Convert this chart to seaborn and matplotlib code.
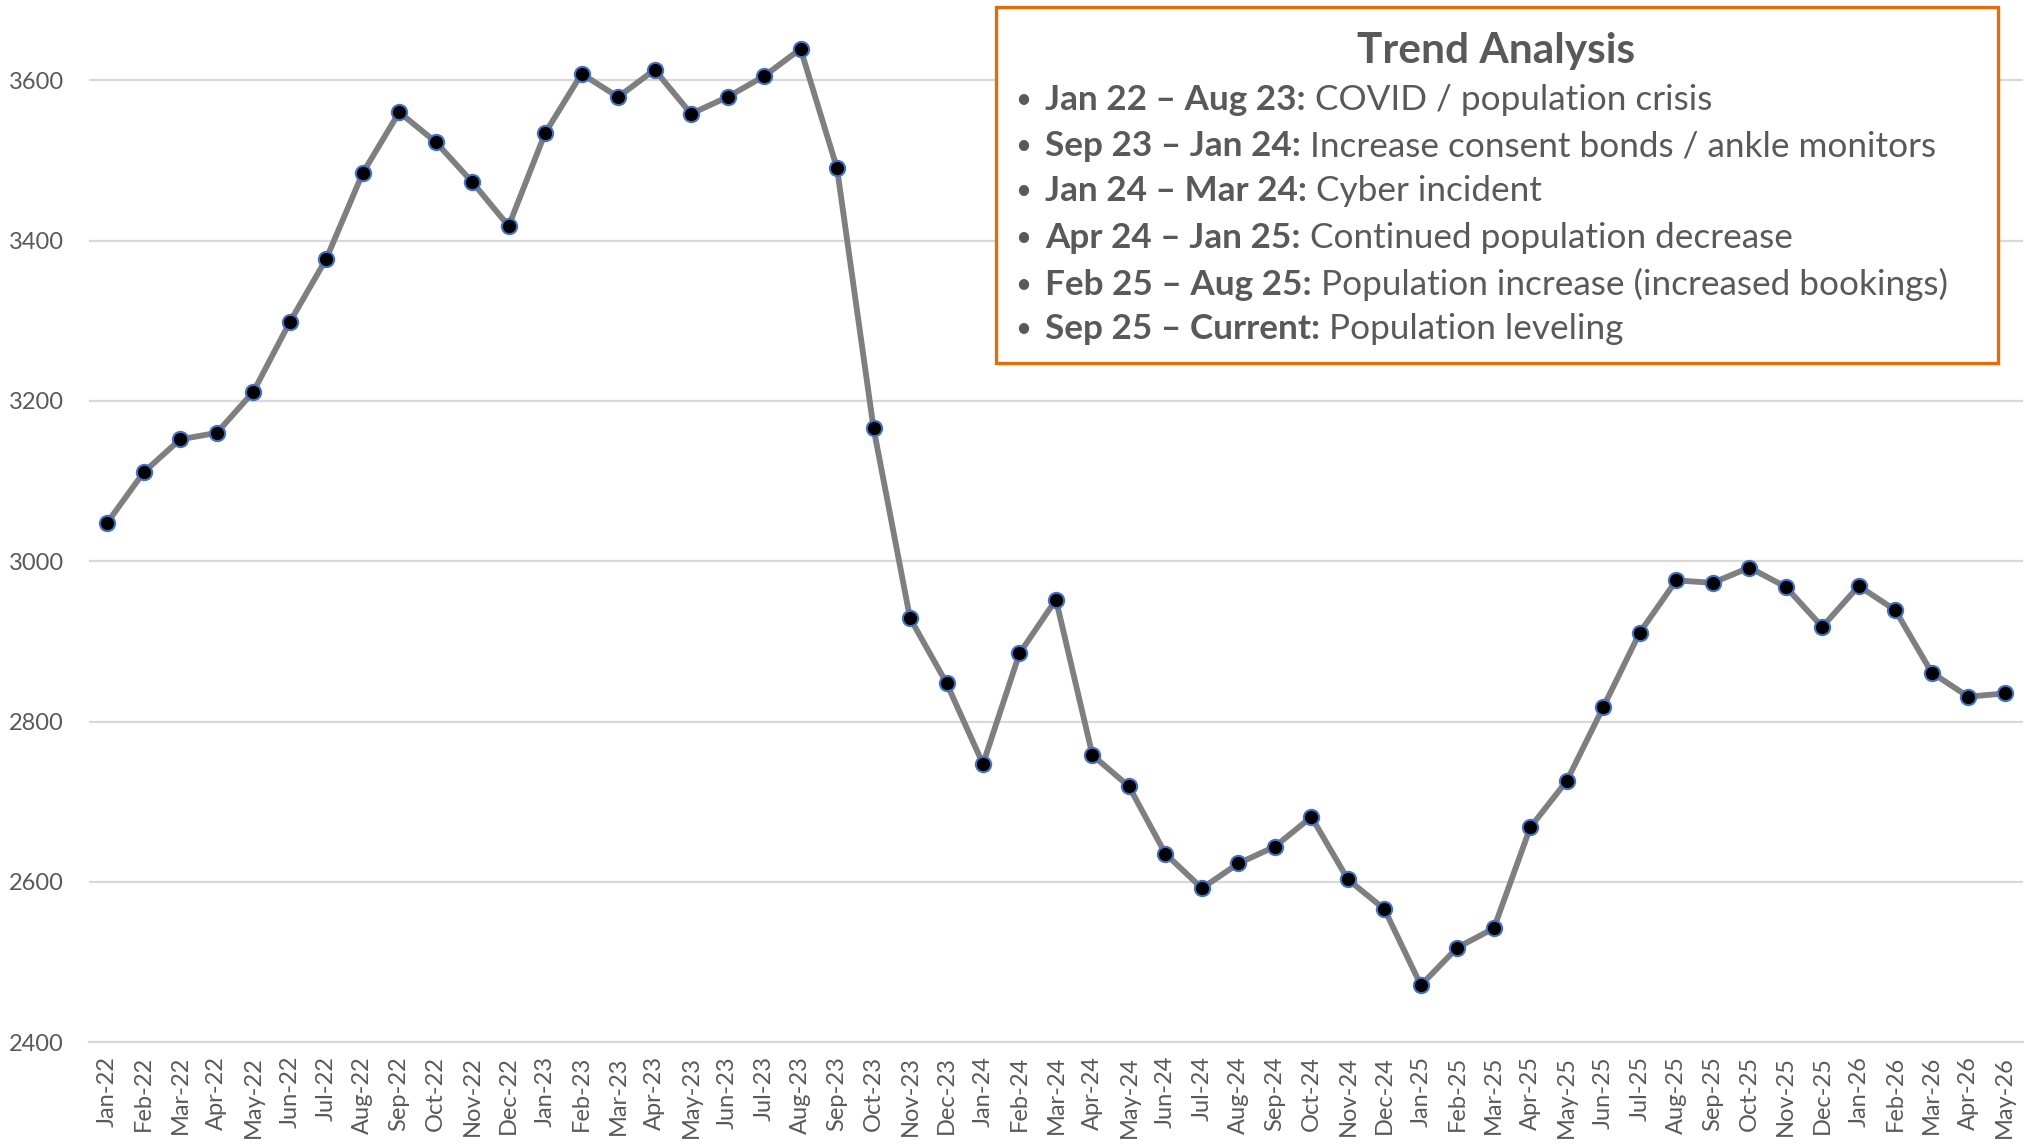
import numpy as np
import pandas as pd
import matplotlib
matplotlib.use("Agg")
import matplotlib.pyplot as plt
import seaborn as sns
from matplotlib.patches import Rectangle

# meses del eje x
meses = ["Jan-22", "Feb-22", "Mar-22", "Apr-22", "May-22", "Jun-22", "Jul-22", "Aug-22",
         "Sep-22", "Oct-22", "Nov-22", "Dec-22", "Jan-23", "Feb-23", "Mar-23", "Apr-23",
         "May-23", "Jun-23", "Jul-23", "Aug-23", "Sep-23", "Oct-23", "Nov-23", "Dec-23",
         "Jan-24", "Feb-24", "Mar-24", "Apr-24", "May-24", "Jun-24", "Jul-24", "Aug-24",
         "Sep-24", "Oct-24", "Nov-24", "Dec-24", "Jan-25", "Feb-25", "Mar-25", "Apr-25",
         "May-25", "Jun-25", "Jul-25", "Aug-25", "Sep-25", "Oct-25", "Nov-25", "Dec-25",
         "Jan-26", "Feb-26", "Mar-26", "Apr-26", "May-26"]

# poblacion mensual
poblacion = [3048, 3111, 3152, 3160, 3211, 3298, 3377, 3484,
             3560, 3523, 3473, 3418, 3534, 3608, 3579, 3613,
             3558, 3579, 3605, 3639, 3490, 3166, 2929, 2848,
             2747, 2885, 2952, 2758, 2719, 2635, 2592, 2623,
             2644, 2681, 2603, 2566, 2471, 2518, 2542, 2668,
             2726, 2818, 2911, 2976, 2973, 2992, 2968, 2918,
             2969, 2939, 2861, 2831, 2835]

y_ticks = [2400, 2600, 2800, 3000, 3200, 3400, 3600]

titulo_caja = "Trend Analysis"
periodos = ["Jan 22 \u2013 Aug 23:", "Sep 23 \u2013 Jan 24:", "Jan 24 \u2013 Mar 24:",
            "Apr 24 \u2013 Jan 25:", "Feb 25 \u2013 Aug 25:", "Sep 25 \u2013 Current:"]
notas = ["COVID / population crisis",
         "Increase consent bonds / ankle monitors",
         "Cyber incident",
         "Continued population decrease",
         "Population increase (increased bookings)",
         "Population leveling"]

sns.set_style("white")
plt.rcParams["font.family"] = ["Lato", "DejaVu Sans"]

gris_texto = "#595959"
gris_linea = "#d9d9d9"

df = pd.DataFrame({"mes": meses, "poblacion": poblacion})
df["pos"] = np.arange(len(df))

fig = plt.figure(figsize=(20.28, 11.44), dpi=100)
ax = fig.add_axes([0.0439, 0.089, 0.9536, 0.911])

sns.lineplot(data=df, x="pos", y="poblacion", ax=ax, color="#7f7f7f", linewidth=4.2,
             marker="o", markersize=11, markerfacecolor="black",
             markeredgecolor="#4472c4", markeredgewidth=1.5, sort=False, zorder=3)

ax.set_xlim(-0.5, len(meses) - 0.5)
ax.set_ylim(2400, 3700)
ax.set_yticks(y_ticks)
ax.set_xticks(df["pos"])
ax.set_xticklabels(meses, rotation=90, fontsize=17, color=gris_texto)
ax.set_xticks(np.arange(-0.5, len(meses), 1), minor=True)
ax.tick_params(axis="x", which="major", length=0, pad=10)
ax.tick_params(axis="x", which="minor", length=9, width=1.5, color=gris_linea)
ax.tick_params(axis="y", length=0, labelsize=17, labelcolor=gris_texto, pad=18)
ax.set_xlabel("")
ax.set_ylabel("")

ax.grid(axis="y", color=gris_linea, linewidth=1.6)
for lado in ["top", "right", "left"]:
    ax.spines[lado].set_visible(False)
ax.spines["bottom"].set_color(gris_linea)
ax.spines["bottom"].set_linewidth(1.6)

# caja de analisis de tendencias
caja = Rectangle((0.4911, 0.6827), 0.4941, 0.3116, transform=fig.transFigure,
                 facecolor="white", edgecolor="#e46c0a", linewidth=2.4, zorder=5)
fig.patches.append(caja)

fig.text(0.7377, 0.9555, titulo_caja, ha="center", va="center", fontsize=30.5,
         fontweight="bold", color=gris_texto, zorder=6)

y_lineas = [0.9130, 0.8723, 0.8328, 0.7920, 0.7513, 0.7120]
for y, periodo, nota in zip(y_lineas, periodos, notas):
    fig.text(0.5045, y, "\u2022", ha="center", va="center", fontsize=20,
             color=gris_texto, zorder=6)
    t = fig.text(0.5153, y, periodo, ha="left", va="center", fontsize=25.3,
                 fontweight="bold", color=gris_texto, zorder=6)
    fig.add_artist(matplotlib.text.Annotation(" " + nota, xy=(1, 0), xycoords=t,
                                              ha="left", va="bottom", fontsize=25.3,
                                              color=gris_texto, zorder=6))

fig.savefig("out.png", dpi=100)
